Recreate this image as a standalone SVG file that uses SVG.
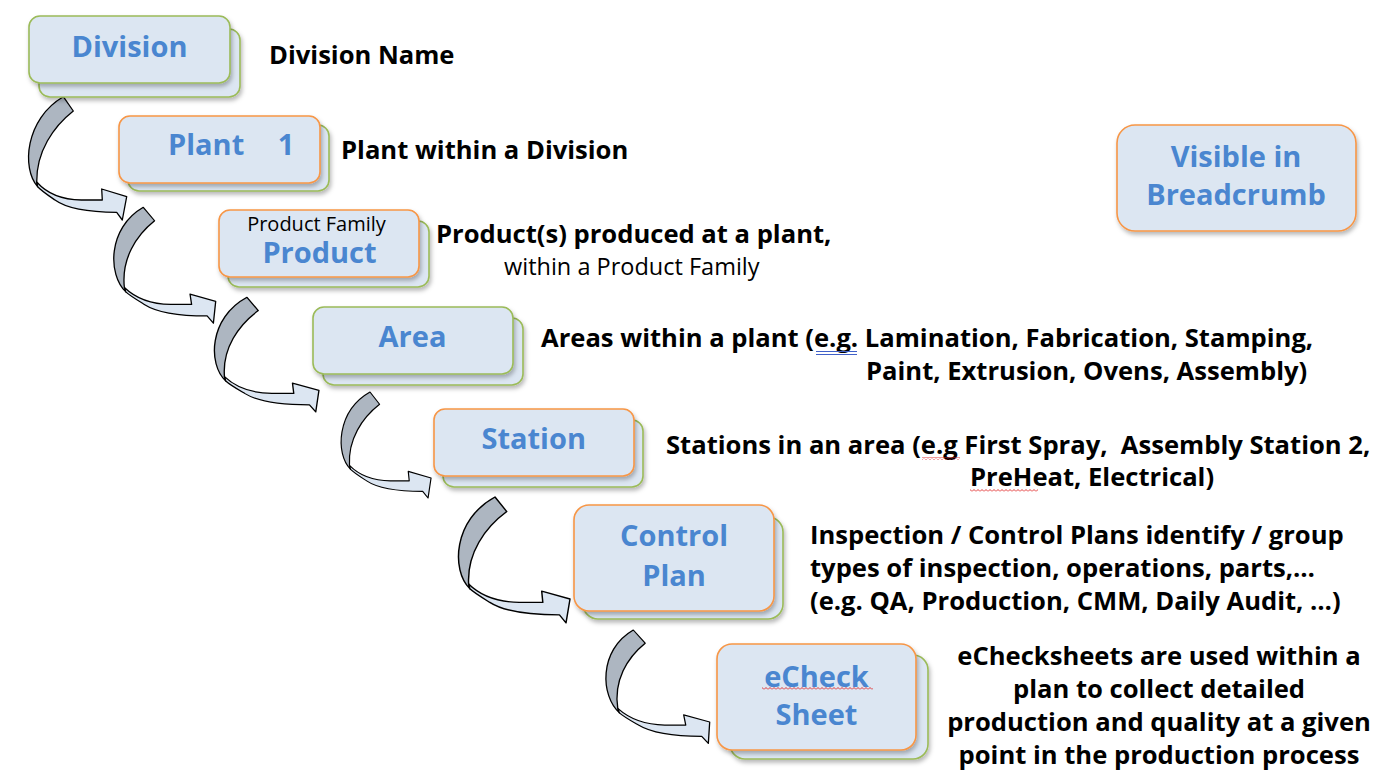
<svg xmlns="http://www.w3.org/2000/svg" width="1388" height="778" viewBox="0 0 1388 778">
<defs>
<filter id="sh" x="-10%" y="-10%" width="125%" height="140%">
<feDropShadow dx="1.5" dy="3" stdDeviation="2.2" flood-color="#000" flood-opacity="0.28"/>
</filter>
<pattern id="squig" width="4" height="3" patternUnits="userSpaceOnUse">
<path d="M0,2.5 L2,0.5 L4,2.5" fill="none" stroke="#e02020" stroke-width="0.9"/>
</pattern>
<g id="arrow">
<path class="back" d="M0,0 L10,14.3 C-10,30 -27,55 -26.6,85.3 L-25.6,90 C-42,72 -38,22 0,0 Z"/>
<path class="front" d="M-26.6,85.3 C-18,95 -5,103 18,103.3 L39,103.3 L38.4,92.3 L63.4,100 L59,123.3 L53.4,115.6 C30,115.5 5,113 -8.3,103.3 C-16,98 -22,94 -25.6,90 Z"/>
</g>
</defs>
<style>
.box{fill:#DCE6F2;stroke-width:1.6;filter:url(#sh)}
.g{stroke:#9BBB59}
.o{stroke:#F79646}
.lbl{font-family:"Open Sans","Liberation Sans",sans-serif;font-weight:bold;font-size:29px;fill:#4A86D0;text-anchor:middle}
.sub{font-family:"Open Sans","Liberation Sans",sans-serif;font-size:20px;fill:#000;text-anchor:middle}
.d{font-family:"Open Sans","Liberation Sans",sans-serif;font-weight:bold;font-size:25.6px;fill:#000}
.dr{font-family:"Open Sans","Liberation Sans",sans-serif;font-size:23.5px;fill:#000}
.back{fill:#ADB6C1;stroke:#000;stroke-width:1.3;stroke-linejoin:round}
.front{fill:#DCE6F2;stroke:#000;stroke-width:1.3;stroke-linejoin:round}
</style>

<g id="connectors">
<use href="#arrow" transform="translate(63.3,96.7)"/>
<use href="#arrow" transform="matrix(1,0,0.09,0.94,143.3,207.3)"/>
<use href="#arrow" transform="matrix(1.04,0,0.06,0.93,247,297.3)"/>
<use href="#arrow" transform="matrix(0.9,0,0.04,0.86,370,392)"/>
<use href="#arrow" transform="matrix(1.12,0,0.04,1.02,495,497)"/>
<use href="#arrow" transform="matrix(1,0,0.13,0.92,633.3,630)"/>
</g>

<g id="division">
<rect class="box g" x="39" y="29" width="201" height="68" rx="11"/>
<rect class="box g" x="29" y="16" width="201" height="67" rx="11"/>
<text class="lbl" x="129.5" y="57">Division</text>
<text class="d" x="269" y="64">Division Name</text>
</g>

<g id="plant">
<rect class="box g" x="128" y="125" width="201" height="66" rx="11"/>
<rect class="box o" x="119" y="116" width="201" height="67" rx="11"/>
<text class="lbl" x="168" y="155" style="text-anchor:start">Plant <tspan dx="26">1</tspan></text>
<text class="d" x="341" y="159">Plant within a Division</text>
</g>

<g id="product">
<rect class="box g" x="228" y="221" width="201" height="66" rx="11"/>
<rect class="box o" x="219" y="210" width="200" height="67" rx="11"/>
<text class="sub" x="316.5" y="231">Product Family</text>
<text class="lbl" x="319.5" y="263">Product</text>
<text class="d" x="436" y="243">Product(s) produced at a plant,</text>
<text class="dr" x="504" y="275">within a Product Family</text>
</g>

<g id="area">
<rect class="box g" x="323" y="318" width="200" height="67" rx="11"/>
<rect class="box g" x="313" y="307" width="200" height="67" rx="11"/>
<text class="lbl" x="412.5" y="347">Area</text>
<text class="d" x="541" y="347">Areas within a plant (e.g. Lamination, Fabrication, Stamping,</text>
<text class="d" x="866" y="380">Paint, Extrusion, Ovens, Assembly)</text>
<path d="M816,351.5 H857 M816,354.5 H857" stroke="#4060C8" stroke-width="1" fill="none"/>
</g>

<g id="station">
<rect class="box g" x="443" y="420" width="200" height="67" rx="11"/>
<rect class="box o" x="434" y="409" width="200" height="67" rx="11"/>
<text class="lbl" x="533.7" y="449">Station</text>
<text class="d" x="666" y="454" xml:space="preserve">Stations in an area (e.g First Spray,  Assembly Station 2,</text>
<text class="d" x="970" y="486">PreHeat, Electrical)</text>
<rect x="922" y="457" width="38" height="3" fill="url(#squig)"/>
<rect x="970" y="489" width="68" height="3" fill="url(#squig)"/>
</g>

<g id="control-plan">
<rect class="box g" x="583" y="517" width="200" height="102" rx="15"/>
<rect class="box o" x="574" y="505" width="200" height="106" rx="15"/>
<text class="lbl" x="674" y="546">Control</text>
<text class="lbl" x="674" y="586">Plan</text>
<text class="d" x="810" y="544">Inspection / Control Plans identify / group</text>
<text class="d" x="810" y="577">types of inspection, operations, parts,…</text>
<text class="d" x="810" y="610">(e.g. QA, Production, CMM, Daily Audit, …)</text>
</g>

<g id="echeck-sheet">
<rect class="box g" x="730" y="655" width="198" height="104" rx="15"/>
<rect class="box o" x="717" y="644" width="199" height="106" rx="15"/>
<text class="lbl" x="816.5" y="687">eCheck</text>
<text class="lbl" x="816.5" y="725">Sheet</text>
<rect x="762" y="687" width="111" height="3" fill="url(#squig)"/>
<text class="d" x="1159" y="665" text-anchor="middle">eChecksheets are used within a</text>
<text class="d" x="1159" y="698" text-anchor="middle">plan to collect detailed</text>
<text class="d" x="1159" y="731" text-anchor="middle">production and quality at a given</text>
<text class="d" x="1159" y="764" text-anchor="middle">point in the production process</text>
</g>

<g id="legend-visible-in-breadcrumb">
<rect class="box o" x="1117" y="125" width="239" height="106" rx="18"/>
<text class="lbl" x="1236" y="167">Visible in</text>
<text class="lbl" x="1236" y="205">Breadcrumb</text>
</g>
</svg>
